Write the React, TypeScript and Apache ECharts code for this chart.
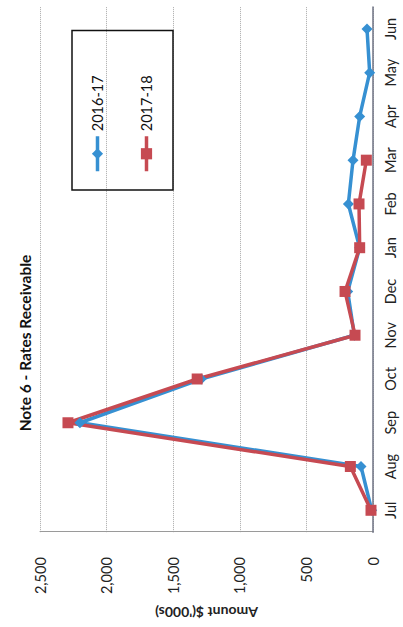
import React, { useEffect, useRef } from "react";
import * as echarts from "echarts";

// Monthly rates receivable balances, $'000s
const months = ["Jul", "Aug", "Sep", "Oct", "Nov", "Dec", "Jan", "Feb", "Mar", "Apr", "May", "Jun"];
const fy2016_17 = [10, 90, 2200, 1290, 140, 190, 100, 185, 150, 100, 25, 45];
const fy2017_18 = [15, 170, 2290, 1320, 135, 210, 100, 105, 50];
const valueTicks = { min: 0, max: 2500, interval: 500 };

const FONT = "Lato, 'Liberation Sans', sans-serif";
const PAGE_W = 403;
const PAGE_H = 627;

export default function App() {
  const ref = useRef<HTMLDivElement>(null);

  useEffect(() => {
    if (!ref.current) return;
    const chart = echarts.init(ref.current, undefined, { renderer: "svg" });
    chart.setOption({
      animation: false,
      backgroundColor: "#ffffff",
      title: {
        text: "Note 6 - Rates Receivable",
        left: 279,
        top: 12,
        textAlign: "center",
        textStyle: { fontFamily: FONT, fontSize: 15.5, fontWeight: "bold", color: "#111" },
      },
      legend: {
        orient: "vertical",
        left: 437,
        top: 72,
        padding: [18, 45, 19, 17],
        itemGap: 34,
        itemWidth: 35,
        itemHeight: 14,
        borderColor: "#111",
        borderWidth: 1.5,
        lineStyle: { width: 3.5 },
        textStyle: { fontFamily: FONT, fontSize: 14.5, color: "#111" },
        data: ["2016-17", "2017-18"],
      },
      grid: { left: 83, right: 7, top: 40, bottom: 30 },
      xAxis: {
        type: "category",
        data: months,
        boundaryGap: true,
        axisLine: { show: true, lineStyle: { color: "#6f7384", width: 1.5 } },
        axisTick: { show: false },
        axisLabel: { margin: 10, fontFamily: FONT, fontSize: 14.5, color: "#222" },
        splitLine: { show: false },
      },
      yAxis: {
        type: "value",
        min: valueTicks.min,
        max: valueTicks.max,
        interval: valueTicks.interval,
        name: "Amount $('000s)",
        nameLocation: "middle",
        nameRotate: 90,
        nameGap: 72,
        nameTextStyle: { fontFamily: FONT, fontSize: 14, fontWeight: "bold", color: "#222" },
        axisLine: { show: true, lineStyle: { color: "#9a9a9a", width: 1 } },
        axisTick: { show: false },
        axisLabel: {
          margin: 25,
          fontFamily: FONT,
          fontSize: 14.5,
          color: "#222",
          formatter: (v: number) => v.toLocaleString("en-US"),
        },
        splitLine: { show: true, lineStyle: { color: "#a8a8a8", type: "dotted", width: 1 } },
      },
      series: [
        {
          name: "2016-17",
          type: "line",
          data: fy2016_17,
          symbol: "diamond",
          symbolSize: 11,
          lineStyle: { color: "#3690d2", width: 3.5 },
          itemStyle: { color: "#3690d2" },
        },
        {
          name: "2017-18",
          type: "line",
          data: fy2017_18,
          symbol: "rect",
          symbolSize: 11,
          lineStyle: { color: "#c64a52", width: 3.5 },
          itemStyle: { color: "#c64a52" },
        },
      ],
    });
    return () => chart.dispose();
  }, []);

  // The chart is laid out landscape and turned a quarter turn anticlockwise.
  return (
    <div
      style={{
        position: "fixed",
        left: 0,
        top: 0,
        width: PAGE_W,
        height: PAGE_H,
        overflow: "hidden",
        background: "#fff",
      }}
    >
      <div
        ref={ref}
        style={{
          position: "absolute",
          left: 0,
          top: 0,
          width: PAGE_H,
          height: PAGE_W,
          transformOrigin: "0 0",
          transform: `translate(0px, ${PAGE_H}px) rotate(-90deg)`,
        }}
      />
    </div>
  );
}
